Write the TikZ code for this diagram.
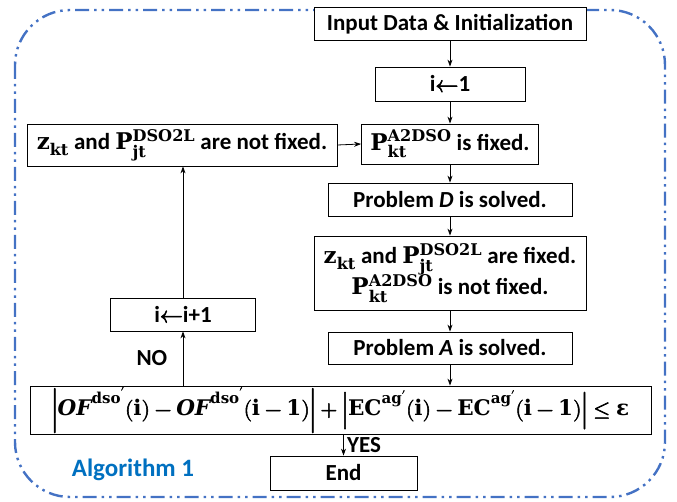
\documentclass[tikz,border=0pt]{standalone}
\usepackage{amsmath}
\usepackage{unicode-math}
\setmainfont{Carlito}
\setmathfont{Latin Modern Math}[FakeBold=2.5]
\setmathfontface\mathdr{DejaVu Serif Bold}
\setmathfontface\mathdri{DejaVu Serif Bold Italic}
\newfontfamily\serifgras{DejaVu Serif Bold}
\usetikzlibrary{arrows.meta}
\definecolor{bleucadre}{RGB}{68,114,196}
\definecolor{bleutexte}{RGB}{0,112,192}
\newcommand{\dr}[1]{\mathdr{#1}}
\begin{document}
\begin{tikzpicture}[x=1pt, y=-1pt, >={Stealth[length=7pt,width=5pt]},
                  bloc/.style={draw, thick, fill=white, inner sep=1pt, align=center,
                     font=\fontsize{23}{25}\selectfont\bfseries},
                  etiq/.style={font=\fontsize{23}{25}\selectfont\bfseries},
                  cadre/.style={bleucadre, line width=2.4pt, rounded corners=55pt,
                     dash pattern=on 14pt off 5pt on 2.5pt off 5pt on 2.5pt off 5pt}]
\useasboundingbox (0,0) rectangle (677,502);
\draw[cadre] (15,10) rectangle (665,497);
% colonne de droite
\node[bloc, minimum width=272pt, minimum height=33pt] (entree) at (450,24) {Input Data \& Initialization};
\node[bloc, minimum width=150pt, minimum height=34pt] (init) at (450,84) {i$\leftarrow$1};
\node[bloc, minimum width=177pt, minimum height=40pt] (pfixe) at (450,144)
  {$\dr{P}_{\dr{kt}}^{\dr{A2DSO}}$ is fixed.};
\node[bloc, minimum width=244pt, minimum height=33pt] (probD) at (450,199.5) {Problem \textit{D} is solved.};
\node[bloc, minimum width=272pt, minimum height=74pt] (zfixe) at (450,273)
  {$\dr{z}_{\dr{kt}}$ and $\dr{P}_{\dr{jt}}^{\dr{DSO2L}}$ are fixed.\\[-2pt]
   $\dr{P}_{\dr{kt}}^{\dr{A2DSO}}$ is not fixed.};
\node[bloc, minimum width=244pt, minimum height=32pt] (probA) at (450,348) {Problem \textit{A} is solved.};
% colonne de gauche
\node[bloc, minimum width=310pt, minimum height=42pt] (libre) at (182,145)
  {$\dr{z}_{\dr{kt}}$ and $\dr{P}_{\dr{jt}}^{\dr{DSO2L}}$ are not fixed.};
\node[bloc, minimum width=145pt, minimum height=33pt] (incr) at (183,314.5) {i$\leftarrow$i+1};
% test et fin
\node[bloc, minimum width=621pt, minimum height=36pt, font=\fontsize{21.5}{24}\selectfont\bfseries] (test) at (340.5,410)
  {$\left|\mathdri{OF}^{\dr{dso}'}(\dr{i})-\mathdri{OF}^{\dr{dso}'}(\dr{i}-\dr{1})\right|
   +\left|\dr{EC}^{\dr{ag}'}(\dr{i})-\dr{EC}^{\dr{ag}'}(\dr{i}-\dr{1})\right|\leq\text{\serifgras ε}$};
\node[bloc, minimum width=147pt, minimum height=34pt] (fin) at (343.5,473) {End};
\node[etiq, text=bleutexte, font=\fontsize{25}{27}\selectfont\bfseries] (algo) at (133,470) {Algorithm 1};
% fleches
\draw[thick,->] (entree.south) -- (init.north);
\draw[thick,->] (init.south) -- (pfixe.north);
\draw[thick,->] (pfixe.south) -- (probD.north);
\draw[thick,->] (probD.south) -- (zfixe.north);
\draw[thick,->] (zfixe.south) -- (probA.north);
\draw[thick,->] (probA.south) -- (probA.south |- test.north);
\draw[thick,->] (fin.north |- test.south) -- (fin.north) node[etiq, midway, right] {YES};
\draw[thick,->] (incr.south |- test.north) -- (incr.south) node[etiq, midway, left=12pt] {NO};
\draw[thick,->] (incr.north) -- (incr.north |- libre.south);
\draw[thick,->] (libre.east) -- (pfixe.west);
\end{tikzpicture}
\end{document}
